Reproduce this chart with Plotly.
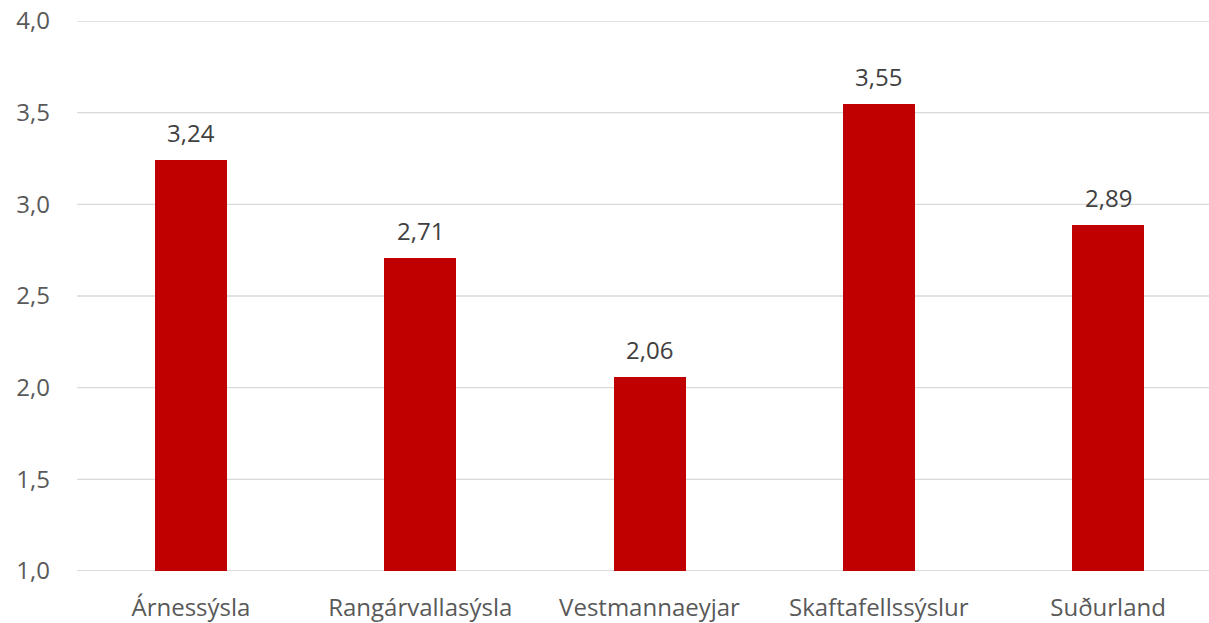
import plotly.graph_objects as go

categories = ["Árnessýsla", "Rangárvallasýsla", "Vestmannaeyjar", "Skaftafellssýslur", "Suðurland"]
values = [3.24, 2.71, 2.06, 3.55, 2.89]
tick_vals = [1.0, 1.5, 2.0, 2.5, 3.0, 3.5, 4.0]
tick_text = ["1,0", "1,5", "2,0", "2,5", "3,0", "3,5", "4,0"]
labels = [f"{v:.2f}".replace(".", ",") for v in values]

FONT = "'Open Sans', sans-serif"
xs = list(range(len(categories)))

fig = go.Figure(go.Bar(
    x=xs,
    y=[v - 1.0 for v in values],
    base=1.0,
    width=0.314,
    marker=dict(color="#C00000", line=dict(width=0)),
    hoverinfo="skip",
))

for x, v, t in zip(xs, values, labels):
    fig.add_annotation(x=x, y=v, text=t, showarrow=False, xref="x", yref="y",
                       yanchor="bottom", yshift=9,
                       font=dict(family=FONT, size=24, color="#404040"))

# horizontal gridlines
for tv in tick_vals:
    fig.add_shape(type="line", xref="paper", yref="y", x0=0, x1=1, y0=tv, y1=tv,
                  line=dict(color="#D9D9D9" if tv != 1.0 else "#D0D0D0",
                            width=1.3 if tv != 1.0 else 1.6),
                  layer="below")

fig.update_layout(
    width=1209, height=623,
    margin=dict(l=77, r=0, t=21, b=52, autoexpand=False),
    paper_bgcolor="white", plot_bgcolor="white",
    showlegend=False,
    font=dict(family=FONT, size=24, color="#595959"),
    xaxis=dict(
        range=[-0.497, 4.44],
        tickmode="array",
        tickvals=xs,
        ticktext=categories,
        showgrid=False, zeroline=False,
        showline=False, ticks="",
        automargin=False,
        ticklabelstandoff=20,
        ticklabeloverflow="allow",
        tickfont=dict(family=FONT, size=24, color="#595959"),
    ),
    yaxis=dict(
        range=[1.0, 4.0],
        tickmode="array",
        tickvals=tick_vals,
        ticktext=tick_text,
        showgrid=False,
        zeroline=False, showline=False, ticks="",
        automargin=False,
        ticklabelstandoff=26,
        ticklabeloverflow="allow",
        tickfont=dict(family=FONT, size=24, color="#595959"),
    ),
    bargap=0,
)

fig.write_html("out.html",
               config={"displayModeBar": False, "staticPlot": True},
               post_script="document.body.style.margin='0';document.body.style.overflow='hidden';")
